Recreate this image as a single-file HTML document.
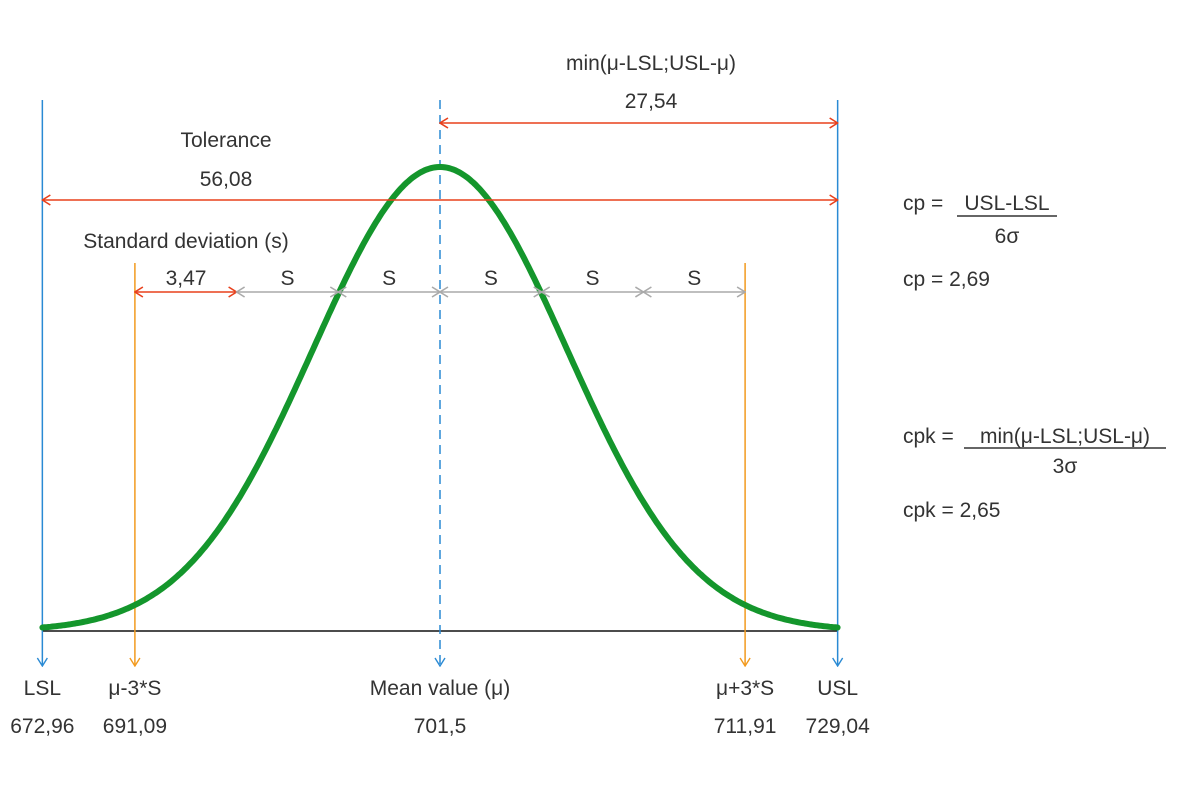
<!DOCTYPE html>
<html><head><meta charset="utf-8"><style>
html,body{margin:0;padding:0;background:#fff}
svg text{font-family:"Liberation Sans",sans-serif;font-size:21px;fill:#333}
</style></head><body>
<svg id="chart" width="1200" height="800" viewBox="0 0 1200 800" xmlns="http://www.w3.org/2000/svg">
<defs>
<marker id="ar" markerWidth="10" markerHeight="12" refX="9" refY="6" orient="auto-start-reverse" markerUnits="userSpaceOnUse"><path d="M1,1 L9,6 L1,11" fill="none" stroke="#e8401c" stroke-width="1.6"/></marker>
<marker id="ag" markerWidth="10" markerHeight="12" refX="9" refY="6" orient="auto-start-reverse" markerUnits="userSpaceOnUse"><path d="M1,1 L9,6 L1,11" fill="none" stroke="#aaa" stroke-width="1.6"/></marker>
<marker id="ab" markerWidth="10" markerHeight="12" refX="9" refY="6" orient="auto" markerUnits="userSpaceOnUse"><path d="M1,1 L9,6 L1,11" fill="none" stroke="#2a8ad4" stroke-width="1.4"/></marker>
<marker id="ao" markerWidth="10" markerHeight="12" refX="9" refY="6" orient="auto" markerUnits="userSpaceOnUse"><path d="M1,1 L9,6 L1,11" fill="none" stroke="#f29a1f" stroke-width="1.4"/></marker>
</defs>
<g id="g"></g>
<text x="651" y="70" text-anchor="middle">min(μ-LSL;USL-μ)</text>
<text x="651" y="108" text-anchor="middle">27,54</text>
<text x="226" y="147" text-anchor="middle">Tolerance</text>
<text x="226" y="186" text-anchor="middle">56,08</text>
<text x="186" y="248" text-anchor="middle">Standard deviation (s)</text>
<text x="186" y="285" text-anchor="middle">3,47</text>
<g>
<text x="903" y="210">cp =</text><text x="1007" y="210" text-anchor="middle">USL-LSL</text>
<line x1="957" y1="216" x2="1057" y2="216" stroke="#333" stroke-width="1.5"/>
<text x="1007" y="243" text-anchor="middle">6σ</text>
<text x="903" y="286">cp =  2,69</text>
</g>
<g>
<text x="903" y="443">cpk =</text><text x="1065" y="443" text-anchor="middle">min(μ-LSL;USL-μ)</text>
<line x1="964" y1="448" x2="1166" y2="448" stroke="#333" stroke-width="1.5"/>
<text x="1065" y="473" text-anchor="middle">3σ</text>
<text x="903" y="517">cpk = 2,65</text>
</g>
</svg>
<script>
const markerLabels=["LSL","μ-3*S","Mean value (μ)","μ+3*S","USL"];
const markerValues=["672,96","691,09","701,5","711,91","729,04"];
const markerSigma=[-3.91,-3,0,3,3.91];
const sigmaSteps=[-3,-2,-1,0,1,2,3];
const curveSpread=1.25;
const NS="http://www.w3.org/2000/svg";
const g=document.getElementById('g');
const x=z=>440+z*101.7;
const base=631, peakH=464;
const y=h=>base-h*peakH;
function el(t,a,name){const e=document.createElementNS(NS,t);for(const k in a)e.setAttribute(k,a[k]);


g.appendChild(e);return e;}
el('line',{x1:x(markerSigma[0]),y1:base,x2:x(markerSigma[4]),y2:base,stroke:'#111','stroke-width':1.5},'baseline');
const colors=['#2a8ad4','#f29a1f','#2a8ad4','#f29a1f','#2a8ad4'];
markerSigma.forEach((z,i)=>{
 const blue=i%2==0;
 const top=blue?100:263;
 const l=el('line',{x1:x(z),y1:top,x2:x(z),y2:666,stroke:colors[i],'stroke-width':1.5,'marker-end':blue?'url(#ab)':'url(#ao)'},'limit-line-'+i);
 if(i==2)l.setAttribute('stroke-dasharray','9,6');
 const t1=el('text',{x:x(z),y:695,'text-anchor':'middle'},'limit-label-'+i);t1.textContent=markerLabels[i];
 const t2=el('text',{x:x(z),y:733,'text-anchor':'middle'},'limit-value-'+i);t2.textContent=markerValues[i];
});
let d='';
for(let z=markerSigma[0];z<=markerSigma[4]+0.001;z+=0.02){const u=z/curveSpread;d+=(d?'L':'M')+x(z).toFixed(1)+','+y(Math.exp(-u*u/2)).toFixed(1);}
el('path',{d:d,fill:'none',stroke:'#14962c','stroke-width':6,'stroke-linecap':'round'},'normal-curve');
el('line',{x1:x(markerSigma[0]),y1:200,x2:x(markerSigma[4]),y2:200,stroke:'#e8401c','stroke-width':1.6,'marker-start':'url(#ar)','marker-end':'url(#ar)'},'tolerance-arrow');
el('line',{x1:x(0),y1:123,x2:x(markerSigma[4]),y2:123,stroke:'#e8401c','stroke-width':1.6,'marker-start':'url(#ar)','marker-end':'url(#ar)'},'min-distance-arrow');
for(let i=0;i<sigmaSteps.length-1;i++){
 const red=i==0;
 el('line',{x1:x(sigmaSteps[i]),y1:292,x2:x(sigmaSteps[i+1]),y2:292,stroke:red?'#e8401c':'#aaa','stroke-width':1.6,'marker-start':red?'url(#ar)':'url(#ag)','marker-end':red?'url(#ar)':'url(#ag)'},'sigma-arrow-'+i);
 if(!red){const t=el('text',{x:(x(sigmaSteps[i])+x(sigmaSteps[i+1]))/2,y:285,'text-anchor':'middle'},'sigma-label-'+i);t.textContent='S';}
}
</script>
</body></html>
